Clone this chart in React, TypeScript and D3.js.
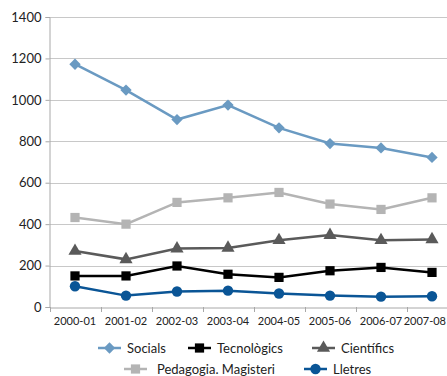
import * as d3 from 'd3';
import React, { useEffect, useRef } from 'react';

const years = ["2000-01", "2001-02", "2002-03", "2003-04", "2004-05", "2005-06", "2006-07", "2007-08"];
const yTicks = [0, 200, 400, 600, 800, 1000, 1200, 1400];

const socials = [1172, 1047, 905, 975, 865, 789, 768, 722];
const tecnologics = [150, 150, 198, 158, 143, 175, 191, 167];
const cientifics = [270, 230, 282, 285, 322, 347, 322, 326];
const pedagogia = [432, 400, 505, 527, 553, 497, 471, 527];
const lletres = [100, 55, 75, 79, 65, 55, 50, 52];

type Series = { name: string; values: number[]; color: string; marker: string; };

const series: Series[] = [
  { name: "Pedagogia. Magisteri", values: pedagogia, color: "#b4b4b4", marker: "square" },
  { name: "Científics", values: cientifics, color: "#5a5a5a", marker: "triangle" },
  { name: "Tecnològics", values: tecnologics, color: "#000000", marker: "square" },
  { name: "Lletres", values: lletres, color: "#0a5596", marker: "circle" },
  { name: "Socials", values: socials, color: "#6a9ac2", marker: "diamond" },
];

// legend rows: [name, x, y]
const legendItems: [string, number, number][] = [
  ["Socials", 98, 348],
  ["Tecnològics", 188, 348],
  ["Científics", 312, 348],
  ["Pedagogia. Magisteri", 124, 369],
  ["Lletres", 304, 369],
];

const symbolFor = (m: string) => {
  if (m === "diamond") return d3.symbol(d3.symbolSquare, 64);
  if (m === "triangle") return d3.symbol(d3.symbolTriangle, 75);
  if (m === "circle") return d3.symbol(d3.symbolCircle, 85);
  return d3.symbol(d3.symbolSquare, 85);
};
const rot = (m: string) => (m === "diamond" ? " rotate(45)" : "");

export default function App() {
  const svgRef = useRef(null);
  const w = 447, h = 376;

  useEffect(() => {
    const svg = d3.select(svgRef.current);
    svg.selectAll("*").remove();

    const left = 49.5, right = 457.5, top = 17, bottom = 307;
    const x = d3.scaleBand().domain(years).range([left, right]);
    const y = d3.scaleLinear().domain([0, 1400]).range([bottom, top]);
    const font = "Lato, 'Open Sans', sans-serif";

    // grid
    svg.append("g")
      .selectAll("line")
      .data(yTicks.filter(t => t > 0))
      .join("line")
      .attr("x1", left).attr("x2", w)
      .attr("y1", d => Math.round(y(d)) + 0.5).attr("y2", d => Math.round(y(d)) + 0.5)
      .attr("stroke", "#c8c8c8").attr("stroke-width", 1);

    // y axis
    const yAxis = svg.append("g")
      .attr("transform", `translate(${left},0)`)
      .call(d3.axisLeft(y).tickValues(yTicks).tickSize(4).tickFormat(d => `${d}`));
    yAxis.select(".domain").attr("stroke", "#a8a8a8");
    yAxis.selectAll("line").attr("stroke", "#a8a8a8");
    yAxis.selectAll("text").attr("font-family", font).attr("font-size", 13).attr("fill", "#222").attr("x", -8);

    // x axis
    const xAxis = svg.append("g")
      .attr("transform", `translate(0,${Math.round(bottom) + 0.5})`)
      .call(d3.axisBottom(x).tickSize(0));
    xAxis.select(".domain").attr("stroke", "#a8a8a8");
    xAxis.selectAll("text").attr("font-family", font).attr("font-size", 11).attr("fill", "#222").attr("dy", "0.71em").attr("y", 10);
    // last label would run off the right edge: pull it inside
    xAxis.selectAll<SVGTextElement, string>("text")
      .filter(d => d === years[years.length - 1])
      .attr("text-anchor", "end")
      .attr("x", w - 1 - (x(years[years.length - 1])! + x.bandwidth() / 2));
    svg.append("g")
      .selectAll("line")
      .data(years)
      .join("line")
      .attr("x1", d => Math.round(x(d)!) + 0.5).attr("x2", d => Math.round(x(d)!) + 0.5)
      .attr("y1", bottom).attr("y2", bottom + 5)
      .attr("stroke", "#a8a8a8");

    const cx = (i: number) => x(years[i])! + x.bandwidth() / 2;

    series.forEach(s => {
      const line = d3.line<number>().x((d, i) => cx(i)).y(d => y(d));
      svg.append("path")
        .attr("d", line(s.values))
        .attr("fill", "none")
        .attr("stroke", s.color)
        .attr("stroke-width", 2.5);
      svg.append("g")
        .selectAll("path")
        .data(s.values)
        .join("path")
        .attr("d", symbolFor(s.marker)())
        .attr("transform", (d, i) => `translate(${cx(i)},${y(d)})${rot(s.marker)}`)
        .attr("fill", s.color);
    });

    // legend
    const lg = svg.append("g");
    legendItems.forEach(([name, lx, ly]) => {
      const s = series.find(k => k.name === name)!;
      lg.append("line")
        .attr("x1", lx).attr("x2", lx + 23)
        .attr("y1", ly).attr("y2", ly)
        .attr("stroke", s.color).attr("stroke-width", 2.5);
      lg.append("path")
        .attr("d", symbolFor(s.marker)())
        .attr("transform", `translate(${lx + 11.5},${ly})${rot(s.marker)}`)
        .attr("fill", s.color);
      lg.append("text")
        .attr("x", lx + (name === "Pedagogia. Magisteri" ? 33 : 29))
        .attr("y", ly)
        .attr("dy", "0.35em")
        .attr("font-family", font)
        .attr("font-size", 13)
        .attr("fill", "#222")
        .text(name);
    });
  }, []);

  return (
    <svg ref={svgRef} width={w} height={h} style={{ position: "absolute", left: 0, top: 0 }} />
  );
}
